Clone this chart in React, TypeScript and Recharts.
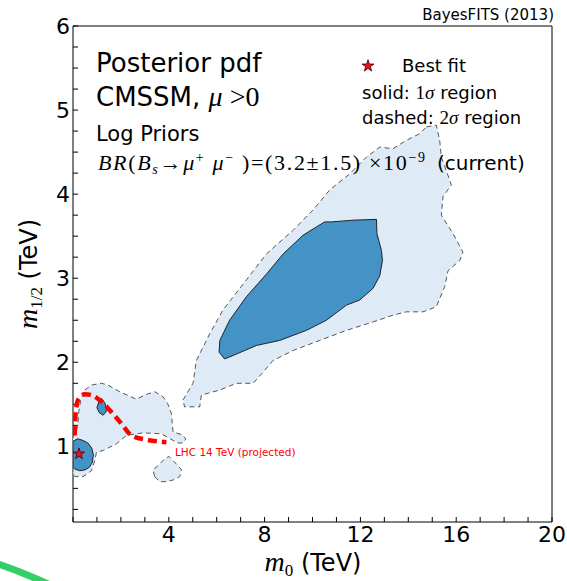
import React from 'react';
import { ComposedChart, Scatter, XAxis, YAxis, Symbols } from 'recharts';

// axis ticks (TeV)
const xTicks = [0, 1, 2, 3, 4, 5, 6, 7, 8, 9, 10, 11, 12, 13, 14, 15, 16, 17, 18, 19, 20];
const xLabels = [4, 8, 12, 16, 20];
const yTicks = [0.25, 0.5, 0.75, 1, 1.25, 1.5, 1.75, 2, 2.25, 2.5, 2.75, 3, 3.25, 3.5, 3.75, 4, 4.25, 4.5, 4.75, 5, 5.25, 5.5, 5.75, 6];
const yLabels = [1, 2, 3, 4, 5, 6];

// 2 sigma region, main blob (m0, m1/2)
const mainOuter: [number, number][] = [
  [14.76, 4.8], [15.17, 4.82], [15.31, 4.64], [15.38, 4.44], [15.8, 4.11], [15.45, 3.97],
  [15.38, 3.75], [15.87, 3.53], [16.28, 3.31], [16.15, 3.21], [15.66, 3.09], [15.52, 2.9],
  [15.17, 2.66], [14.61, 2.6], [13.92, 2.6], [13.36, 2.56], [12.53, 2.48], [11.42, 2.38],
  [10.3, 2.26], [9.19, 2.14], [8.35, 2.02], [7.93, 1.88], [7.52, 1.75], [6.82, 1.75],
  [6.13, 1.67], [5.36, 1.61], [5.29, 1.47], [4.66, 1.47], [4.59, 1.55], [5.01, 1.75],
  [5.15, 2.02], [5.71, 2.34], [6.26, 2.62], [7.24, 2.98], [8.08, 3.29], [9.19, 3.57],
  [10.02, 3.81], [10.72, 4.05], [11.55, 4.24], [12.25, 4.44], [12.81, 4.56], [13.36, 4.54],
  [13.92, 4.64], [14.48, 4.72],
];

// 1 sigma region, main blob
const mainInner: [number, number][] = [
  [10.79, 3.67], [11.69, 3.69], [12.67, 3.7], [12.69, 3.53], [12.88, 3.33], [12.92, 3.21],
  [12.81, 3.03], [12.53, 2.88], [11.97, 2.74], [11.42, 2.68], [10.58, 2.5], [9.75, 2.38],
  [8.63, 2.26], [7.66, 2.2], [6.68, 2.08], [6.33, 2.04], [6.1, 2.12], [6.13, 2.26],
  [6.54, 2.5], [7.24, 2.78], [8.08, 3.05], [8.78, 3.29], [9.6, 3.51], [10.16, 3.61], [10.51, 3.67],
];

// 2 sigma region, low mass corner
const lowOuter: [number, number][] = [
  [0.49, 1.67], [0.78, 1.73], [1.19, 1.75], [1.45, 1.73], [1.95, 1.65], [2.65, 1.56],
  [2.99, 1.61], [3.41, 1.65], [3.76, 1.59], [3.95, 1.51], [4.11, 1.39], [4.15, 1.25],
  [4.18, 1.17], [4.53, 1.14], [4.71, 1.09], [4.59, 1.04], [4.38, 1.04], [4.18, 1.07],
  [3.69, 1.15], [2.92, 1.16], [2.23, 1.13], [1.81, 1.03], [1.25, 0.95], [0.98, 0.93],
  [0.91, 0.83], [0.77, 0.71], [0.42, 0.64], [0.07, 0.64], [0, 0.69], [0, 1.11],
  [0.11, 1.17], [0.2, 1.25], [0.24, 1.41], [0.32, 1.55],
];

const lowBlob: [number, number][] = [
  [3.41, 0.64], [3.34, 0.72], [3.55, 0.77], [3.83, 0.85], [4.01, 0.88], [4.18, 0.83],
  [4.38, 0.77], [4.53, 0.72], [4.46, 0.64], [4.18, 0.6], [3.9, 0.58], [3.62, 0.58],
];

// 1 sigma islands near the best fit
const coreInner: [number, number][] = [
  [0, 1.06], [0.2, 1.09], [0.42, 1.07], [0.62, 1.04], [0.78, 0.98], [0.85, 0.9],
  [0.81, 0.81], [0.68, 0.75], [0.5, 0.72], [0.28, 0.71], [0.08, 0.73], [0, 0.75],
];

const islandInner: [number, number][] = [
  [1.19, 1.57], [1.32, 1.52], [1.42, 1.45], [1.36, 1.4], [1.25, 1.37], [1.1, 1.4], [1.0, 1.46], [1.08, 1.53],
];

// LHC 14 TeV projected reach
const lhcReach: [number, number][] = [
  [0.07, 1.13], [0.11, 1.39], [0.21, 1.55], [0.49, 1.62], [0.77, 1.61], [1.19, 1.53],
  [1.6, 1.41], [2.02, 1.27], [2.44, 1.13], [3.06, 1.08], [3.9, 1.05],
];

const bestFit: [number, number][] = [[0.25, 0.91]];

const toPts = (arr: [number, number][]) => arr.map(([x, y]) => ({ x, y }));
const noDot = () => <g />;

const LIGHT = '#deebf7';
const DARK = '#4393c7';
const SANS = 'DejaVu Sans';
const SERIF = 'Liberation Serif';

const region = (key: string, pts: [number, number][], fill: string, stroke: string, dash?: string) => (
  <Scatter
    key={key}
    data={toPts(pts)}
    shape={noDot}
    line={{ fill, stroke, strokeWidth: 1, strokeDasharray: dash }}
    lineJointType="linearClosed"
    isAnimationActive={false}
    legendType="none"
  />
);

const Overlay = () => (
  <svg width={567} height={581} style={{ position: 'absolute', left: 0, top: 0, pointerEvents: 'none' }}>
    <text x={554} y={20} textAnchor="end" fontFamily={SANS} fontSize={15}>BayesFITS (2013)</text>

    <text x={96} y={72} fontFamily={SANS} fontSize={26}>Posterior pdf</text>
    <text x={96} y={106} fontFamily={SANS} fontSize={26}>
      CMSSM, <tspan fontFamily={SERIF} fontStyle="italic" fontSize={28}>μ</tspan>
      <tspan fontFamily={SERIF} fontSize={28}> &gt;0</tspan>
    </text>
    <text x={96} y={141} fontFamily={SANS} fontSize={21}>Log Priors</text>

    <text x={98} y={170} fontFamily={SERIF} fontSize={22} textLength={327} lengthAdjust="spacing">
      <tspan fontStyle="italic">BR</tspan>(<tspan fontStyle="italic">B</tspan>
      <tspan fontStyle="italic" fontSize={14} dy={4}>s</tspan>
      <tspan dy={-4}>→</tspan><tspan fontStyle="italic">μ</tspan>
      <tspan fontSize={14} dy={-8}>+</tspan>
      <tspan dy={8} fontStyle="italic"> μ</tspan>
      <tspan fontSize={14} dy={-8}>−</tspan>
      <tspan dy={8}> )=(3.2±1.5) ×10</tspan>
      <tspan fontSize={14} dy={-8}>−9</tspan>
    </text>
    <text x={437} y={170} fontFamily={SANS} fontSize={20}>(current)</text>

    <Symbols cx={368} cy={66} type="star" size={45} fill="#e8141b" stroke="#400" strokeWidth={0.8} />
    <text x={402} y={72} fontFamily={SANS} fontSize={18}>Best fit</text>
    <text x={362} y={99} fontFamily={SANS} fontSize={18}>
      solid: <tspan fontFamily={SERIF} fontSize={19}>1</tspan><tspan fontFamily={SERIF} fontStyle="italic" fontSize={19}>σ</tspan> region
    </text>
    <text x={362} y={124} fontFamily={SANS} fontSize={18}>
      dashed: <tspan fontFamily={SERIF} fontSize={19}>2</tspan><tspan fontFamily={SERIF} fontStyle="italic" fontSize={19}>σ</tspan> region
    </text>

    <text x={175} y={456} fontFamily={SANS} fontSize={10.5} fill="#ff0000">LHC 14 TeV (projected)</text>

    <text x={313} y={571} textAnchor="middle" fontFamily={SANS} fontSize={24}>
      <tspan fontFamily={SERIF} fontStyle="italic" fontSize={28}>m</tspan>
      <tspan fontFamily={SERIF} fontSize={17} dy={5}>0</tspan>
      <tspan dy={-5}> (TeV)</tspan>
    </text>
    <text x={0} y={0} transform="translate(37 274) rotate(-90)" textAnchor="middle" fontFamily={SANS} fontSize={24}>
      <tspan fontFamily={SERIF} fontStyle="italic" fontSize={28}>m</tspan>
      <tspan fontFamily={SERIF} fontSize={17} dy={5}>1/2</tspan>
      <tspan dy={-5}> (TeV)</tspan>
    </text>

    <path d="M -2 564 Q 22 572 48 584" stroke="#35cf68" strokeWidth={7} fill="none" />
  </svg>
);

export default function App() {
  const tickStyle = { fill: '#000', fontSize: 22, fontFamily: SANS };
  return (
    <div style={{ position: 'absolute', left: 0, top: 0, width: 567, height: 581, background: '#fff' }}>
      <ComposedChart width={567} height={581} margin={{ top: 25, right: 14, bottom: 58, left: 72 }}>
        <XAxis
          xAxisId={0}
          dataKey="x"
          type="number"
          domain={[0, 20]}
          allowDataOverflow
          ticks={xTicks}
          interval={0}
          height={1}
          tickSize={-5}
          tickMargin={9}
          tickFormatter={(v: number) => (xLabels.includes(v) ? String(v) : '')}
          tick={tickStyle}
          axisLine={{ stroke: '#000' }}
          tickLine={{ stroke: '#000' }}
        />
        <XAxis
          xAxisId="top"
          orientation="top"
          type="number"
          domain={[0, 20]}
          allowDataOverflow
          ticks={xTicks}
          interval={0}
          height={1}
          tickSize={-5}
          tick={false}
          axisLine={{ stroke: '#000' }}
          tickLine={{ stroke: '#000' }}
        />
        <YAxis
          yAxisId={0}
          dataKey="y"
          type="number"
          domain={[0.1, 6]}
          allowDataOverflow
          ticks={yTicks}
          interval={0}
          width={1}
          tickSize={-5}
          tickMargin={8}
          tickFormatter={(v: number) => (yLabels.includes(v) ? String(v) : '')}
          tick={tickStyle}
          axisLine={{ stroke: '#000' }}
          tickLine={{ stroke: '#000' }}
        />
        <YAxis
          yAxisId="right"
          orientation="right"
          type="number"
          domain={[0.1, 6]}
          allowDataOverflow
          ticks={yTicks}
          interval={0}
          width={1}
          tickSize={-5}
          tick={false}
          axisLine={{ stroke: '#000' }}
          tickLine={{ stroke: '#000' }}
        />

        {region('mainOuter', mainOuter, LIGHT, '#555', '5 3.5')}
        {region('lowOuter', lowOuter, LIGHT, '#555', '5 3.5')}
        {region('lowBlob', lowBlob, LIGHT, '#555', '5 3.5')}
        {region('mainInner', mainInner, DARK, '#222')}
        {region('coreInner', coreInner, DARK, '#222')}
        {region('islandInner', islandInner, DARK, '#222')}

        <Scatter
          data={toPts(lhcReach)}
          shape={noDot}
          line={{ fill: 'none', stroke: '#ff0000', strokeWidth: 4.5, strokeDasharray: '9 5' }}
          lineJointType="monotoneX"
          isAnimationActive={false}
          legendType="none"
        />
        <Scatter
          data={toPts(bestFit)}
          shape={(p: any) => (
            <Symbols cx={p.cx} cy={p.cy} type="star" size={40} fill="#e8141b" stroke="#400" strokeWidth={0.8} />
          )}
          isAnimationActive={false}
          legendType="none"
        />
      </ComposedChart>
      <Overlay />
    </div>
  );
}
